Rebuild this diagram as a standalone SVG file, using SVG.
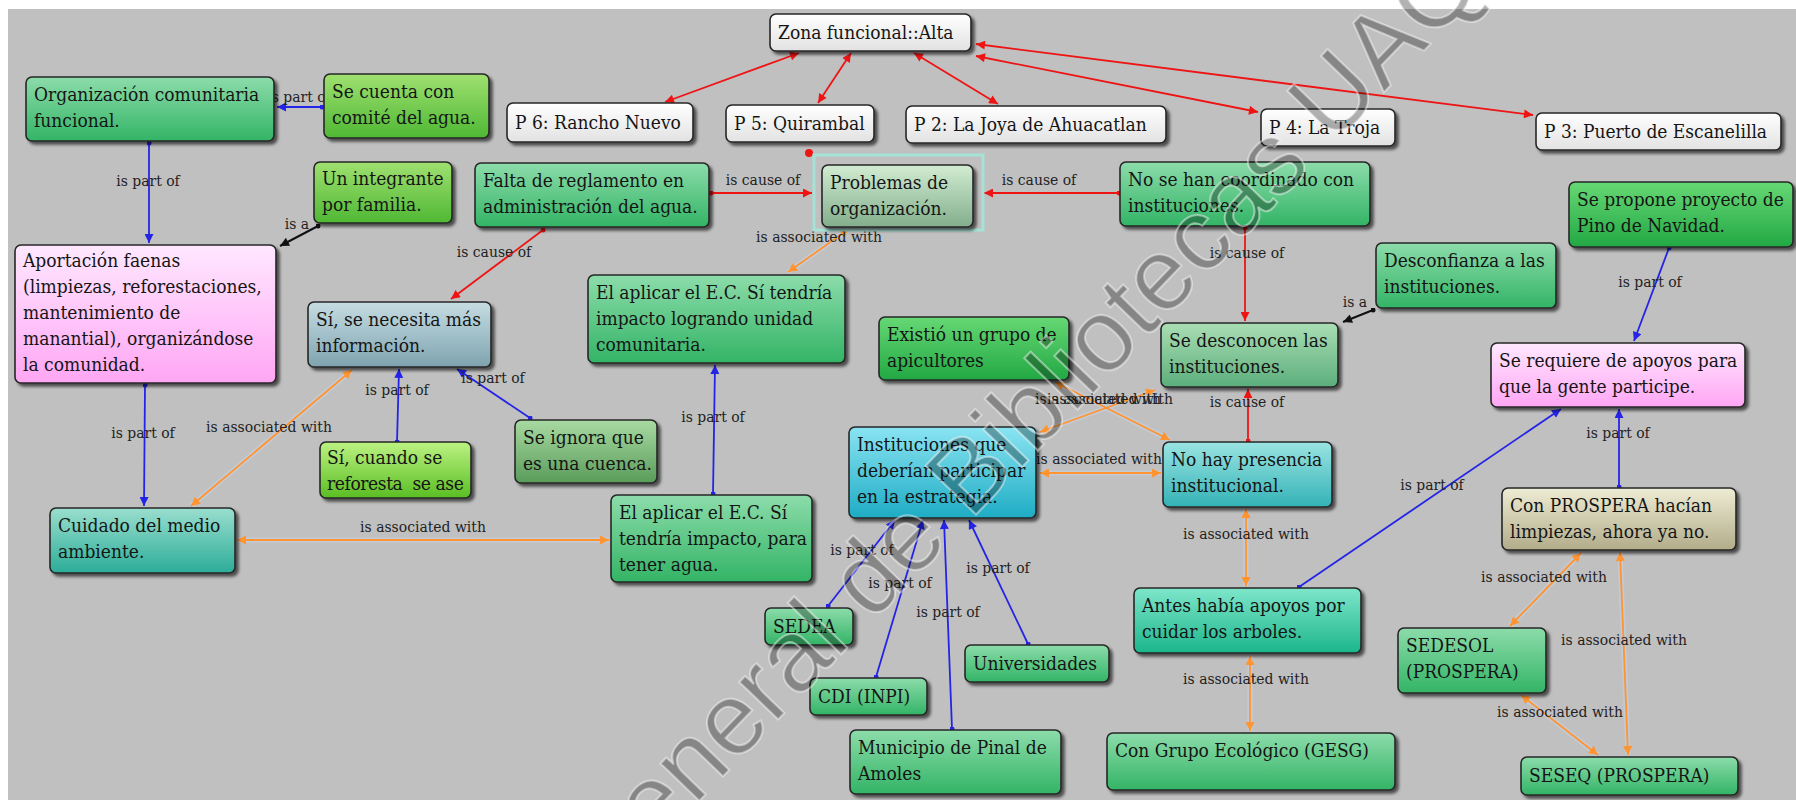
<svg xmlns="http://www.w3.org/2000/svg" width="1796" height="800" viewBox="0 0 1796 800">
<defs>
<style>
.nt{font-size:19px;fill:#151515;white-space:pre}
.lb{font-size:15.5px;fill:#222;text-anchor:middle}
.box{stroke:#262626;stroke-width:1.6;filter:url(#sh)}
.r{stroke:#ee1414;stroke-width:1.8;fill:none}
.b{stroke:#2424e6;stroke-width:1.8;fill:none}
.o{stroke:#ff9430;stroke-width:1.8;fill:none}
.oh{stroke:#c9d3e6;stroke-width:5;fill:none;opacity:.55}
.k{stroke:#111;stroke-width:2;fill:none}
.wm{font-size:102px;fill:#000000;fill-opacity:.3;stroke:#ffffff;stroke-opacity:.45;stroke-width:2}
</style>
<filter id="sh" x="-10%" y="-10%" width="130%" height="140%">
<feDropShadow dx="3" dy="3" stdDeviation="1.5" flood-color="#000" flood-opacity="0.6"/>
</filter>
<linearGradient id="gW" x1="0" y1="0" x2="0" y2="1"><stop offset="0" stop-color="#ffffff"/><stop offset="1" stop-color="#e2e2e2"/></linearGradient>
<linearGradient id="gG" x1="0" y1="0" x2="0" y2="1"><stop offset="0" stop-color="#8cdcaa"/><stop offset="1" stop-color="#33b466"/></linearGradient>
<linearGradient id="gL" x1="0" y1="0" x2="0" y2="1"><stop offset="0" stop-color="#9fe070"/><stop offset="1" stop-color="#4fb834"/></linearGradient>
<linearGradient id="gB" x1="0" y1="0" x2="0" y2="1"><stop offset="0" stop-color="#66d874"/><stop offset="1" stop-color="#22a844"/></linearGradient>
<linearGradient id="gP" x1="0" y1="0" x2="0" y2="1"><stop offset="0" stop-color="#ffe8ff"/><stop offset="1" stop-color="#ffa6f4"/></linearGradient>
<linearGradient id="gBG" x1="0" y1="0" x2="0" y2="1"><stop offset="0" stop-color="#c6dce2"/><stop offset="1" stop-color="#7ea4b0"/></linearGradient>
<linearGradient id="gPG" x1="0" y1="0" x2="0" y2="1"><stop offset="0" stop-color="#d2ecd2"/><stop offset="1" stop-color="#82ae8c"/></linearGradient>
<linearGradient id="gSG" x1="0" y1="0" x2="0" y2="1"><stop offset="0" stop-color="#aadeb4"/><stop offset="1" stop-color="#5cae7c"/></linearGradient>
<linearGradient id="gOL" x1="0" y1="0" x2="0" y2="1"><stop offset="0" stop-color="#a8daa2"/><stop offset="1" stop-color="#5a9c5a"/></linearGradient>
<linearGradient id="gC" x1="0" y1="0" x2="0" y2="1"><stop offset="0" stop-color="#8ae4f2"/><stop offset="1" stop-color="#1eacc4"/></linearGradient>
<linearGradient id="gT" x1="0" y1="0" x2="0" y2="1"><stop offset="0" stop-color="#9ae4e2"/><stop offset="1" stop-color="#34b2b6"/></linearGradient>
<linearGradient id="gTC" x1="0" y1="0" x2="0" y2="1"><stop offset="0" stop-color="#9adece"/><stop offset="1" stop-color="#2cad98"/></linearGradient>
<linearGradient id="gA" x1="0" y1="0" x2="0" y2="1"><stop offset="0" stop-color="#7ee6ca"/><stop offset="1" stop-color="#1cb68c"/></linearGradient>
<linearGradient id="gK" x1="0" y1="0" x2="0" y2="1"><stop offset="0" stop-color="#eeecd4"/><stop offset="1" stop-color="#b2ac8a"/></linearGradient>
<linearGradient id="gSY" x1="0" y1="0" x2="0" y2="1"><stop offset="0" stop-color="#bcf282"/><stop offset="1" stop-color="#5abe24"/></linearGradient>
<marker id="aR" viewBox="0 0 10 10" refX="10" refY="5" markerWidth="11" markerHeight="9" markerUnits="userSpaceOnUse" orient="auto-start-reverse"><path d="M0,0 L10,5 L0,10 z" fill="#ee1414"/></marker>
<marker id="aB" viewBox="0 0 10 10" refX="10" refY="5" markerWidth="11" markerHeight="9" markerUnits="userSpaceOnUse" orient="auto-start-reverse"><path d="M0,0 L10,5 L0,10 z" fill="#2424e6"/></marker>
<marker id="aO" viewBox="0 0 10 10" refX="10" refY="5" markerWidth="11" markerHeight="9" markerUnits="userSpaceOnUse" orient="auto-start-reverse"><path d="M0,0 L10,5 L0,10 z" fill="#ff9430"/></marker>
<marker id="aK" viewBox="0 0 10 10" refX="10" refY="5" markerWidth="11" markerHeight="9" markerUnits="userSpaceOnUse" orient="auto-start-reverse"><path d="M0,0 L10,5 L0,10 z" fill="#111"/></marker>
<marker id="dR" viewBox="0 0 6 6" refX="3" refY="3" markerWidth="5" markerHeight="5" markerUnits="userSpaceOnUse"><circle cx="3" cy="3" r="3" fill="#ee1414"/></marker>
<marker id="dB" viewBox="0 0 6 6" refX="3" refY="3" markerWidth="5" markerHeight="5" markerUnits="userSpaceOnUse"><circle cx="3" cy="3" r="3" fill="#2424e6"/></marker>
<marker id="dK" viewBox="0 0 6 6" refX="3" refY="3" markerWidth="5" markerHeight="5" markerUnits="userSpaceOnUse"><circle cx="3" cy="3" r="3" fill="#111"/></marker>
</defs>

<rect x="0" y="0" width="1796" height="800" fill="#ffffff"/>
<rect x="8" y="9" width="1788" height="791" fill="#c0c0c0"/>

<g id="connectors">
<line class="r" x1="799" y1="53" x2="665" y2="102" marker-start="url(#aR)" marker-end="url(#aR)"/>
<line class="r" x1="851" y1="53" x2="818" y2="103" marker-start="url(#aR)" marker-end="url(#aR)"/>
<line class="r" x1="914" y1="53" x2="998" y2="104" marker-start="url(#aR)" marker-end="url(#aR)"/>
<line class="r" x1="976" y1="56" x2="1258" y2="112" marker-start="url(#aR)" marker-end="url(#aR)"/>
<line class="r" x1="976" y1="44" x2="1533" y2="115" marker-start="url(#aR)" marker-end="url(#aR)"/>
<circle cx="809" cy="153" r="4" fill="#ee1414"/>
<line class="r" x1="711" y1="193" x2="812" y2="193" marker-start="url(#dR)" marker-end="url(#aR)"/>
<line class="r" x1="1119" y1="193" x2="984" y2="193" marker-start="url(#dR)" marker-end="url(#aR)"/>
<line class="r" x1="543" y1="230" x2="451" y2="299" marker-start="url(#dR)" marker-end="url(#aR)"/>
<line class="r" x1="1245" y1="228" x2="1245" y2="321" marker-start="url(#dR)" marker-end="url(#aR)"/>
<line class="r" x1="1248" y1="441" x2="1248" y2="389" marker-start="url(#dR)" marker-end="url(#aR)"/>
<line class="b" x1="322" y1="107" x2="277" y2="107" marker-start="url(#dB)" marker-end="url(#aB)"/>
<line class="b" x1="149" y1="143" x2="149" y2="243" marker-start="url(#dB)" marker-end="url(#aB)"/>
<line class="b" x1="145" y1="385" x2="144" y2="506" marker-start="url(#dB)" marker-end="url(#aB)"/>
<line class="b" x1="397" y1="442" x2="399" y2="369" marker-start="url(#dB)" marker-end="url(#aB)"/>
<line class="b" x1="530" y1="418" x2="457" y2="369" marker-start="url(#dB)" marker-end="url(#aB)"/>
<line class="b" x1="713" y1="494" x2="715" y2="365" marker-start="url(#dB)" marker-end="url(#aB)"/>
<line class="b" x1="828" y1="606" x2="895" y2="520" marker-start="url(#dB)" marker-end="url(#aB)"/>
<line class="b" x1="876" y1="677" x2="923" y2="520" marker-start="url(#dB)" marker-end="url(#aB)"/>
<line class="b" x1="952" y1="729" x2="944" y2="520" marker-start="url(#dB)" marker-end="url(#aB)"/>
<line class="b" x1="1028" y1="644" x2="969" y2="520" marker-start="url(#dB)" marker-end="url(#aB)"/>
<line class="b" x1="1669" y1="248" x2="1634" y2="341" marker-start="url(#dB)" marker-end="url(#aB)"/>
<line class="b" x1="1619" y1="487" x2="1619" y2="409" marker-start="url(#dB)" marker-end="url(#aB)"/>
<line class="b" x1="1299" y1="587" x2="1561" y2="409" marker-start="url(#dB)" marker-end="url(#aB)"/>
<line class="k" x1="318" y1="226" x2="280" y2="246" marker-start="url(#dK)" marker-end="url(#aK)"/>
<line class="k" x1="1373" y1="310" x2="1343" y2="322" marker-start="url(#dK)" marker-end="url(#aK)"/>
<g class="oh">
<line x1="849" y1="229" x2="788" y2="272"/>
<line x1="352" y1="370" x2="191" y2="506"/>
<line x1="237" y1="540" x2="609" y2="540"/>
<line x1="1055" y1="382" x2="1170" y2="440"/>
<line x1="1155" y1="390" x2="1040" y2="432"/>
<line x1="1040" y1="473" x2="1161" y2="473"/>
<line x1="1246" y1="509" x2="1246" y2="586"/>
<line x1="1250" y1="656" x2="1250" y2="731"/>
<line x1="1581" y1="553" x2="1510" y2="626"/>
<line x1="1620" y1="552" x2="1628" y2="755"/>
<line x1="1521" y1="695" x2="1598" y2="755"/>
</g>
<line class="o" x1="849" y1="229" x2="788" y2="272" marker-start="url(#aO)" marker-end="url(#aO)"/>
<line class="o" x1="352" y1="370" x2="191" y2="506" marker-start="url(#aO)" marker-end="url(#aO)"/>
<line class="o" x1="237" y1="540" x2="609" y2="540" marker-start="url(#aO)" marker-end="url(#aO)"/>
<line class="o" x1="1055" y1="382" x2="1170" y2="440" marker-start="url(#aO)" marker-end="url(#aO)"/>
<line class="o" x1="1155" y1="390" x2="1040" y2="432" marker-start="url(#aO)" marker-end="url(#aO)"/>
<line class="o" x1="1040" y1="473" x2="1161" y2="473" marker-start="url(#aO)" marker-end="url(#aO)"/>
<line class="o" x1="1246" y1="509" x2="1246" y2="586" marker-start="url(#aO)" marker-end="url(#aO)"/>
<line class="o" x1="1250" y1="656" x2="1250" y2="731" marker-start="url(#aO)" marker-end="url(#aO)"/>
<line class="o" x1="1581" y1="553" x2="1510" y2="626" marker-start="url(#aO)" marker-end="url(#aO)"/>
<line class="o" x1="1620" y1="552" x2="1628" y2="755" marker-start="url(#aO)" marker-end="url(#aO)"/>
<line class="o" x1="1521" y1="695" x2="1598" y2="755" marker-start="url(#aO)" marker-end="url(#aO)"/>
<g font-family="DejaVu Serif Condensed, DejaVu Serif, serif" font-stretch="condensed">
<text class="lb" x="299" y="102">is part of</text>
<text class="lb" x="148" y="186">is part of</text>
<text class="lb" x="143" y="438">is part of</text>
<text class="lb" x="397" y="395">is part of</text>
<text class="lb" x="493" y="383">is part of</text>
<text class="lb" x="713" y="422">is part of</text>
<text class="lb" x="862" y="555">is part of</text>
<text class="lb" x="900" y="588">is part of</text>
<text class="lb" x="948" y="617">is part of</text>
<text class="lb" x="998" y="573">is part of</text>
<text class="lb" x="1650" y="287">is part of</text>
<text class="lb" x="1618" y="438">is part of</text>
<text class="lb" x="1432" y="490">is part of</text>
<text class="lb" x="763" y="185">is cause of</text>
<text class="lb" x="1039" y="185">is cause of</text>
<text class="lb" x="494" y="257">is cause of</text>
<text class="lb" x="1247" y="258">is cause of</text>
<text class="lb" x="1247" y="407">is cause of</text>
<text class="lb" x="297" y="229">is a</text>
<text class="lb" x="1355" y="307">is a</text>
<text class="lb" x="819" y="242">is associated with</text>
<text class="lb" x="269" y="432">is associated with</text>
<text class="lb" x="423" y="532">is associated with</text>
<text class="lb" x="1098" y="404">is associated with</text>
<text class="lb" x="1110" y="404">is associated with</text>
<text class="lb" x="1099" y="464">is associated with</text>
<text class="lb" x="1246" y="539">is associated with</text>
<text class="lb" x="1246" y="684">is associated with</text>
<text class="lb" x="1544" y="582">is associated with</text>
<text class="lb" x="1624" y="645">is associated with</text>
<text class="lb" x="1560" y="717">is associated with</text>
</g>
</g>

<g id="nodes" font-family="DejaVu Serif Condensed, DejaVu Serif, serif" font-stretch="condensed">
<g id="n-zona"><rect class="box" x="770" y="14" width="201" height="37" rx="6" fill="url(#gW)"/><text class="nt" x="778" y="39">Zona funcional::Alta</text></g>
<g id="n-org"><rect class="box" x="26" y="77" width="248" height="64" rx="6" fill="url(#gG)"/><text class="nt" x="34" y="101">Organización comunitaria</text><text class="nt" x="34" y="127">funcional.</text></g>
<g id="n-comite"><rect class="box" x="324" y="74" width="165" height="64" rx="6" fill="url(#gL)"/><text class="nt" x="332" y="98">Se cuenta con</text><text class="nt" x="332" y="124">comité del agua.</text></g>
<g id="n-p6"><rect class="box" x="507" y="103" width="186" height="39" rx="6" fill="url(#gW)"/><text class="nt" x="515" y="129">P 6: Rancho Nuevo</text></g>
<g id="n-p5"><rect class="box" x="726" y="105" width="148" height="37" rx="6" fill="url(#gW)"/><text class="nt" x="734" y="130">P 5: Quirambal</text></g>
<g id="n-p2"><rect class="box" x="906" y="106" width="260" height="37" rx="6" fill="url(#gW)"/><text class="nt" x="914" y="131">P 2: La Joya de Ahuacatlan</text></g>
<g id="n-p4"><rect class="box" x="1261" y="109" width="134" height="37" rx="6" fill="url(#gW)"/><text class="nt" x="1269" y="134">P 4: La Troja</text></g>
<g id="n-p3"><rect class="box" x="1536" y="113" width="245" height="37" rx="6" fill="url(#gW)"/><text class="nt" x="1544" y="138">P 3: Puerto de Escanelilla</text></g>
<g id="n-integrante"><rect class="box" x="314" y="162" width="138" height="61" rx="6" fill="url(#gL)"/><text class="nt" x="322" y="185">Un integrante</text><text class="nt" x="322" y="211">por familia.</text></g>
<g id="n-falta"><rect class="box" x="475" y="163" width="234" height="64" rx="6" fill="url(#gG)"/><text class="nt" x="483" y="187">Falta de reglamento en</text><text class="nt" x="483" y="213">administración del agua.</text></g>
<g id="n-problemas"><rect x="814" y="155" width="169" height="75" fill="none" stroke="#a6e2d6" stroke-width="3"/><rect class="box" x="822" y="165" width="151" height="62" rx="6" fill="url(#gPG)"/><text class="nt" x="830" y="189">Problemas de</text><text class="nt" x="830" y="215">organización.</text></g>
<g id="n-coordinado"><rect class="box" x="1120" y="162" width="250" height="64" rx="6" fill="url(#gG)"/><text class="nt" x="1128" y="186">No se han coordinado con</text><text class="nt" x="1128" y="212">instituciones.</text></g>
<g id="n-pino"><rect class="box" x="1569" y="182" width="224" height="65" rx="6" fill="url(#gB)"/><text class="nt" x="1577" y="206">Se propone proyecto de</text><text class="nt" x="1577" y="232">Pino de Navidad.</text></g>
<g id="n-aportacion"><rect class="box" x="15" y="245" width="261" height="138" rx="6" fill="url(#gP)"/><text class="nt" x="23" y="267">Aportación faenas</text><text class="nt" x="23" y="293">(limpiezas, reforestaciones,</text><text class="nt" x="23" y="319">mantenimiento de</text><text class="nt" x="23" y="345">manantial), organizándose</text><text class="nt" x="23" y="371">la comunidad.</text></g>
<g id="n-informacion"><rect class="box" x="308" y="302" width="183" height="65" rx="6" fill="url(#gBG)"/><text class="nt" x="316" y="326">Sí, se necesita más</text><text class="nt" x="316" y="352">información.</text></g>
<g id="n-unidad"><rect class="box" x="588" y="275" width="257" height="88" rx="6" fill="url(#gG)"/><text class="nt" x="596" y="299">El aplicar el E.C. Sí tendría</text><text class="nt" x="596" y="325">impacto logrando unidad</text><text class="nt" x="596" y="351">comunitaria.</text></g>
<g id="n-apicultores"><rect class="box" x="879" y="317" width="190" height="63" rx="6" fill="url(#gB)"/><text class="nt" x="887" y="341">Existió un grupo de</text><text class="nt" x="887" y="367">apicultores</text></g>
<g id="n-desconfianza"><rect class="box" x="1376" y="243" width="180" height="65" rx="6" fill="url(#gG)"/><text class="nt" x="1384" y="267">Desconfianza a las</text><text class="nt" x="1384" y="293">instituciones.</text></g>
<g id="n-desconocen"><rect class="box" x="1161" y="323" width="177" height="64" rx="6" fill="url(#gSG)"/><text class="nt" x="1169" y="347">Se desconocen las</text><text class="nt" x="1169" y="373">instituciones.</text></g>
<g id="n-apoyos"><rect class="box" x="1491" y="343" width="254" height="64" rx="6" fill="url(#gP)"/><text class="nt" x="1499" y="367">Se requiere de apoyos para</text><text class="nt" x="1499" y="393">que la gente participe.</text></g>
<g id="n-reforesta"><rect class="box" x="320" y="442" width="151" height="56" rx="6" fill="url(#gSY)"/><text class="nt" x="327" y="464">Sí, cuando se</text><text class="nt" x="327" y="490" letter-spacing="-0.4">reforesta  se ase</text></g>
<g id="n-cuenca"><rect class="box" x="515" y="420" width="142" height="63" rx="6" fill="url(#gOL)"/><text class="nt" x="523" y="444">Se ignora que</text><text class="nt" x="523" y="470">es una cuenca.</text></g>
<g id="n-instituciones"><rect class="box" x="849" y="427" width="187" height="91" rx="6" fill="url(#gC)"/><text class="nt" x="857" y="451">Instituciones que</text><text class="nt" x="857" y="477">deberían participar</text><text class="nt" x="857" y="503">en la estrategia.</text></g>
<g id="n-presencia"><rect class="box" x="1163" y="442" width="169" height="65" rx="6" fill="url(#gT)"/><text class="nt" x="1171" y="466">No hay presencia</text><text class="nt" x="1171" y="492">institucional.</text></g>
<g id="n-prospera"><rect class="box" x="1502" y="488" width="234" height="62" rx="6" fill="url(#gK)"/><text class="nt" x="1510" y="512">Con PROSPERA hacían</text><text class="nt" x="1510" y="538">limpiezas, ahora ya no.</text></g>
<g id="n-cuidado"><rect class="box" x="50" y="508" width="185" height="65" rx="6" fill="url(#gTC)"/><text class="nt" x="58" y="532">Cuidado del medio</text><text class="nt" x="58" y="558">ambiente.</text></g>
<g id="n-agua"><rect class="box" x="611" y="495" width="201" height="87" rx="6" fill="url(#gG)"/><text class="nt" x="619" y="519">El aplicar el E.C. Sí</text><text class="nt" x="619" y="545">tendría impacto, para</text><text class="nt" x="619" y="571">tener agua.</text></g>
<g id="n-antes"><rect class="box" x="1134" y="588" width="227" height="65" rx="6" fill="url(#gA)"/><text class="nt" x="1142" y="612">Antes había apoyos por</text><text class="nt" x="1142" y="638">cuidar los arboles.</text></g>
<g id="n-sedea"><rect class="box" x="765" y="608" width="88" height="37" rx="6" fill="url(#gG)"/><text class="nt" x="773" y="633">SEDEA</text></g>
<g id="n-univ"><rect class="box" x="965" y="645" width="144" height="37" rx="6" fill="url(#gG)"/><text class="nt" x="973" y="670">Universidades</text></g>
<g id="n-sedesol"><rect class="box" x="1398" y="628" width="148" height="65" rx="6" fill="url(#gG)"/><text class="nt" x="1406" y="652">SEDESOL</text><text class="nt" x="1406" y="678">(PROSPERA)</text></g>
<g id="n-cdi"><rect class="box" x="810" y="678" width="117" height="37" rx="6" fill="url(#gG)"/><text class="nt" x="818" y="703">CDI (INPI)</text></g>
<g id="n-municipio"><rect class="box" x="850" y="730" width="211" height="64" rx="6" fill="url(#gG)"/><text class="nt" x="858" y="754">Municipio de Pinal de</text><text class="nt" x="858" y="780">Amoles</text></g>
<g id="n-gesg"><rect class="box" x="1107" y="733" width="288" height="57" rx="6" fill="url(#gG)"/><text class="nt" x="1115" y="757">Con Grupo Ecológico (GESG)</text></g>
<g id="n-seseq"><rect class="box" x="1521" y="757" width="217" height="38" rx="6" fill="url(#gG)"/><text class="nt" x="1529" y="782">SESEQ (PROSPERA)</text></g>
</g>

<g id="watermark" font-family="Liberation Sans, DejaVu Sans, sans-serif">
<text class="wm" x="600" y="904" transform="rotate(-46 600 904)">General de Bibliotecas UAQ</text>
</g>
</svg>
